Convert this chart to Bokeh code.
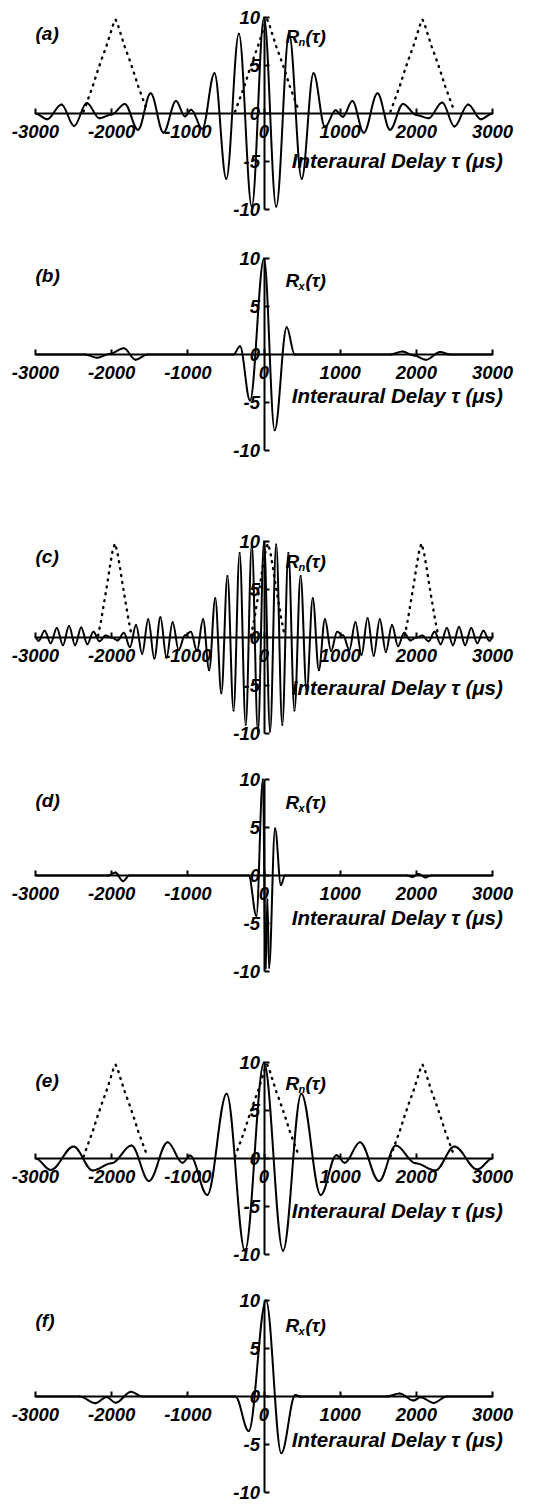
import numpy as np
from bokeh.plotting import figure
from bokeh.models import LinearAxis, FixedTicker, Range1d, Label, ColumnDataSource
from bokeh.layouts import column
from bokeh.embed import file_html
from bokeh.resources import INLINE

# ---------------- data ----------------
x_ticks = [-3000, -2000, -1000, 0, 1000, 2000, 3000]
x_tick_labels = ["-3000", "-2000", "-1000", "0", "1000", "2000", "3000"]
y_ticks = [-10, -5, 0, 5, 10]
y_tick_labels = ["-10", "-5", "0", "5", "10"]
panel_letters = ["(a)", "(b)", "(c)", "(d)", "(e)", "(f)"]
r_subs = ["n", "x", "n", "x", "n", "x"]
x_label = "Interaural Delay \u03c4 (\u03bcs)"

# (a) Rn(tau), extrema
tau_a = [-3000, -2846, -2659, -2493, -2327, -2161, -2000, -1828, -1654, -1488, -1320, -1155,
         -1039, -956, -810, -650, -495, -330, -160, 0, 160, 330, 495, 650, 800, 940, 1035,
         1160, 1310, 1490, 1654, 1825, 2000, 2161, 2340, 2500, 2680, 2846, 3000]
val_a = [0.0, -0.6, 0.95, -1.3, 1.1, -0.5, -0.1, 1.0, -1.7, 2.1, -2.0, 1.3,
         -0.3, 0.4, -1.6, 4.2, -6.8, 8.3, -9.7, 10.0, -9.7, 8.3, -6.8, 4.2, -1.4, 0.35, -0.35,
         1.3, -2.0, 2.1, -1.7, 1.0, -0.15, -0.5, 1.15, -1.35, 0.95, -0.6, 0.0]

# (b) Rx(tau)
tau_b = [-3000, -2350, -2190, -2030, -1840, -1686, -1530, -400, -315, -184, 0, 140, 298, 403,
         1660, 1818, 1971, 2124, 2313, 2440, 3000]
val_b = [0.0, 0.0, -0.35, 0.05, 0.65, -0.55, 0.0, 0.0, 0.85, -4.8, 10.0, -7.9, 2.85, 0.0,
         0.0, 0.3, -0.1, -0.55, 0.25, 0.0, 0.0]

# (c) Rn(tau), extrema
tau_c = [-3000, -2960, -2880, -2800, -2720, -2640, -2560, -2480, -2400, -2320, -2240, -2160,
         -2080, -2000, -1920, -1840, -1760, -1680, -1600, -1520, -1440, -1360, -1280, -1200,
         -1120, -1040, -960, -880, -800, -720, -640, -560, -480, -400, -320, -240, -160, -80,
         0, 80, 160, 240, 320, 400, 480, 560, 640, 720, 800, 880, 960, 1040, 1120, 1200,
         1280, 1360, 1440, 1520, 1600, 1680, 1760, 1840, 1920, 2000, 2080, 2160, 2240, 2320,
         2400, 2480, 2560, 2640, 2720, 2800, 2880, 2960, 3000]
val_c = [0.0, -0.35, 0.7, -0.6, 1.0, -0.8, 1.2, -0.8, 1.05, -0.7, 0.6, -0.4,
         0.2, 0.0, -0.3, 0.5, -1.0, 1.3, -1.7, 1.9, -2.2, 2.1, -2.1, 1.6,
         -1.3, 0.2, 0.6, -1.4, 1.9, -3.4, 4.1, -5.8, 6.4, -7.6, 8.8, -9.1, 9.7, -9.8,
         10.0, -9.8, 9.7, -9.1, 8.8, -7.6, 6.4, -5.6, 4.1, -3.4, 1.9, -1.4, 0.6, 0.2, -1.3, 1.6,
         -1.8, 2.0, -1.9, 1.9, -1.5, 1.3, -0.9, 0.5, -0.3, 0.0, 0.2, -0.4, 0.6, -0.7,
         1.0, -0.8, 1.1, -0.8, 1.0, -0.6, 0.7, -0.35, 0.0]

# (d) Rx(tau)
tau_d = [-3000, -2050, -1950, -1850, -1770, -200, -100, -15, 22, 44, 66, 145, 222, 275,
         1880, 1950, 2030, 2120, 2200, 3000]
val_d = [0.0, 0.0, 0.3, -0.6, 0.0, 0.0, -4.2, 10.0, -9.7, -2.5, -9.6, 4.9, -1.0, 0.0,
         0.0, -0.15, 0.15, -0.2, 0.0, 0.0]

# (e) Rn(tau), extrema
tau_e = [-3000, -2800, -2500, -2250, -2000, -1740, -1510, -1265, -1070, -970, -745, -490,
         -250, 0, 250, 490, 745, 950, 1060, 1260, 1510, 1730, 1990, 2250, 2500, 2800, 3000]
val_e = [0.0, -1.2, 1.25, -1.25, -0.5, 1.35, -2.35, 1.7, -0.45, 0.3, -3.8, 6.75,
         -9.6, 10.0, -9.6, 6.75, -3.8, 0.35, -0.45, 1.7, -2.35, 1.35, -0.5, -1.25, 1.25, -1.15, 0.0]

# (f) Rx(tau)
tau_f = [-3000, -2420, -2211, -2067, -1949, -1744, -1600, -376, -201, 26, 227, 411, 476,
         1612, 1779, 1962, 2058, 2224, 2399, 3000]
val_f = [0.0, 0.0, -0.7, -0.05, -0.65, 0.5, 0.0, 0.0, -3.6, 10.0, -5.9, 0.15, 0.0,
         0.0, 0.3, -0.42, -0.07, -0.67, 0.0, 0.0]

# dotted weighting bumps
bump_centers_wide = [-1950, 40, 2080]
bump_off_wide = [-420, -360, -300, -240, -180, -120, -60, -25, 0, 25, 60, 120, 180, 240, 300, 360, 420]
bump_val_wide = [0.2, 1.5, 2.8, 4.3, 5.7, 7.0, 8.5, 9.4, 9.8, 9.4, 8.5, 7.0, 5.7, 4.3, 2.8, 1.5, 0.2]
bump_centers_narrow = [-1958, 50, 2067]
bump_off_narrow = [-220, -180, -140, -100, -65, -30, 0, 30, 65, 100, 140, 180, 220]
bump_val_narrow = [0.2, 1.8, 3.7, 5.6, 7.4, 9.0, 9.8, 9.0, 7.4, 5.6, 3.7, 1.8, 0.2]

# ---------------- layout ----------------
FONT = "Liberation Sans"
W = 545
PX_PER_US = 0.07617
PX_PER_UNIT = 9.6
X0 = -3000 - 35 / PX_PER_US
X1 = X0 + W / PX_PER_US

panels = [
    dict(tau=tau_a, val=val_a, bump="wide", h=236, ax=113, let=80, r=77, xl=-47),
    dict(tau=tau_b, val=val_b, bump=None, h=240, ax=118, let=79, r=74, xl=-41),
    dict(tau=tau_c, val=val_c, bump="narrow", h=280, ax=161, let=81, r=76, xl=-50),
    dict(tau=tau_d, val=val_d, bump=None, h=242, ax=119, let=75, r=73, xl=-42),
    dict(tau=tau_e, val=val_e, bump="wide", h=272, ax=160, let=78, r=75, xl=-52),
    dict(tau=tau_f, val=val_f, bump=None, h=233, ax=126, let=76, r=71, xl=-43),
]


def smooth_curve(p, xs, ys, width=2.0):
    x = np.asarray(xs, float)
    y = np.asarray(ys, float)
    x0, x1, y0, y1 = x[:-1], x[1:], y[:-1], y[1:]
    dx = x1 - x0
    src = ColumnDataSource(dict(x0=x0, y0=y0, x1=x1, y1=y1,
                                cx0=x0 + 0.36 * dx, cy0=y0,
                                cx1=x1 - 0.36 * dx, cy1=y1))
    p.bezier(x0="x0", y0="y0", x1="x1", y1="y1", cx0="cx0", cy0="cy0",
             cx1="cx1", cy1="cy1", source=src, line_color="black",
             line_width=width, line_cap="round")


def dotted_bumps(p, centers, offs, vals):
    for c in centers:
        xs = [c + o for o in offs]
        p.line(xs, vals, line_color="black", line_width=2.4, line_dash="1 6",
               line_cap="round")


def text(p, x, y, s, size="19px", x_offset=0, y_offset=0, style="bold italic"):
    p.add_layout(Label(x=x, y=y, text=s, text_font=FONT, text_font_size=size,
                       text_font_style=style, text_color="black",
                       text_baseline="middle", text_align="left",
                       x_offset=x_offset, y_offset=y_offset))


figs = []
for i, d in enumerate(panels):
    h = d["h"]
    y_end = d["ax"] / PX_PER_UNIT
    y_start = -(h - d["ax"]) / PX_PER_UNIT
    p = figure(width=W, height=h, output_backend="svg", toolbar_location=None,
               x_axis_type=None, y_axis_type=None, min_border=0,
               x_range=Range1d(X0, X1), y_range=Range1d(y_start, y_end),
               outline_line_color=None, background_fill_color="white",
               border_fill_color="white")

    xa = LinearAxis(fixed_location=0, ticker=FixedTicker(ticks=x_ticks), bounds=(-3000, 3000))
    ya = LinearAxis(fixed_location=0, ticker=FixedTicker(ticks=y_ticks), bounds=(-10, 10))
    xa.major_label_overrides = dict(zip(x_ticks, x_tick_labels))
    ya.major_label_overrides = dict(zip(y_ticks, y_tick_labels))
    for ax in (xa, ya):
        ax.axis_line_width = 2
        ax.axis_line_color = "black"
        ax.major_tick_line_width = 2
        ax.major_tick_in = 5
        ax.major_tick_out = 0
        ax.minor_tick_in = 0
        ax.minor_tick_out = 0
        ax.major_label_text_font = FONT
        ax.major_label_text_font_style = "bold italic"
        ax.major_label_text_font_size = "18.5px"
        ax.major_label_text_color = "black"
    xa.major_label_standoff = 11
    ya.major_label_standoff = 4
    p.add_layout(xa, "below")
    p.add_layout(ya, "left")

    if d["bump"] == "wide":
        dotted_bumps(p, bump_centers_wide, bump_off_wide, bump_val_wide)
    elif d["bump"] == "narrow":
        dotted_bumps(p, bump_centers_narrow, bump_off_narrow, bump_val_narrow)

    smooth_curve(p, d["tau"], d["val"])

    text(p, -3000, d["let"] / PX_PER_UNIT, panel_letters[i])
    ry = d["r"] / PX_PER_UNIT
    text(p, 282, ry, "R")
    text(p, 282, ry, r_subs[i], size="11px", x_offset=13, y_offset=-5)
    text(p, 282, ry, "(\u03c4)", x_offset=20)
    text(p, 365, d["xl"] / PX_PER_UNIT, x_label, size="20.5px")
    figs.append(p)

layout = column(*figs, spacing=0)
open("out.html", "w").write(file_html(layout, INLINE))
